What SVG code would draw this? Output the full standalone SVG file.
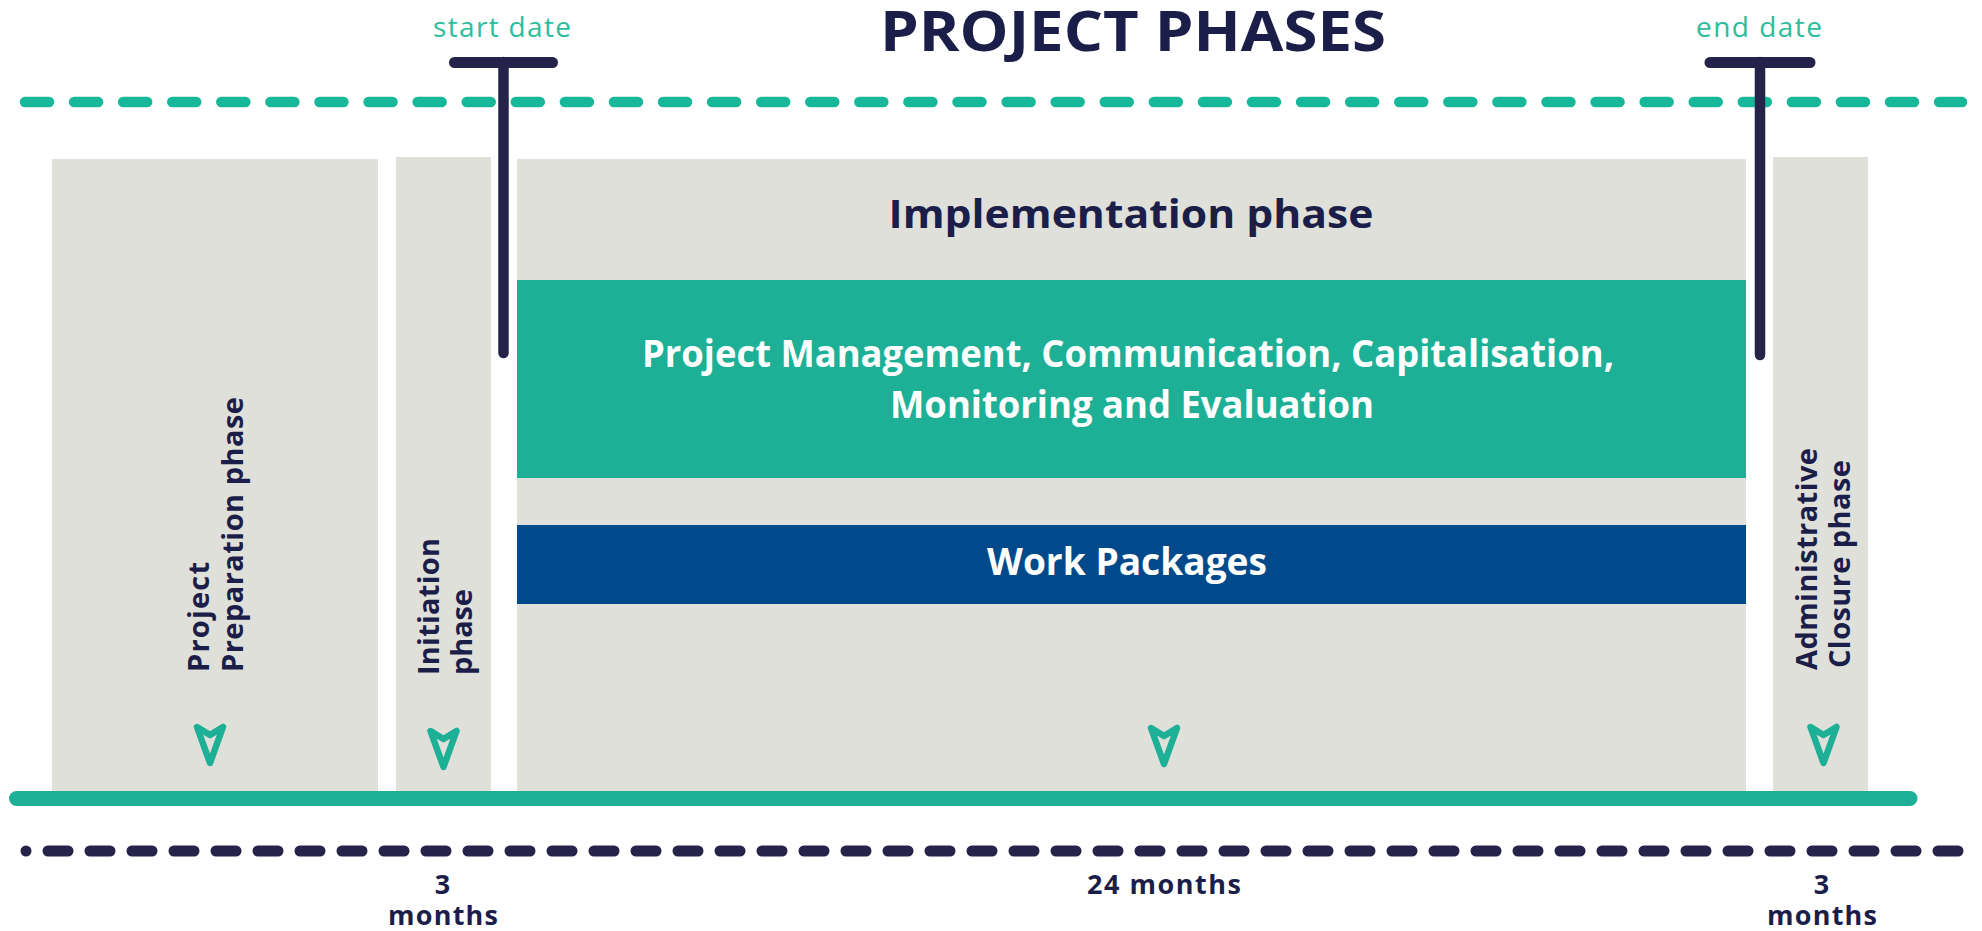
<svg xmlns="http://www.w3.org/2000/svg" width="1982" height="931" viewBox="0 0 1982 931">
<style>
.box{fill:#e0e0da}
.navy{fill:#1c1e4a;font-family:"Open Sans","Liberation Sans",sans-serif;font-weight:700}
.white{fill:#ffffff;font-family:"Open Sans","Liberation Sans",sans-serif;font-weight:700}
.date{fill:#2bbd9c;font-family:"Open Sans","Liberation Sans",sans-serif;font-weight:400;font-size:28px}
.vt{font-size:29px}
.dur{font-size:27px}
.arrow{fill:none;stroke:#1db096;stroke-width:6.5;stroke-linejoin:round}
</style>
<defs>
<path id="arr" d="M -13,0 L 0,8 L 13,0 L 0,36 Z" class="arrow"/>
</defs>
<rect width="1982" height="931" fill="#ffffff"/>

<g id="title">
<text class="navy" x="1133" y="51" font-size="56" text-anchor="middle" textLength="506" lengthAdjust="spacingAndGlyphs">PROJECT PHASES</text>
</g>

<g id="guides">
<line x1="25" y1="102" x2="1962" y2="102" stroke="#17b79a" stroke-width="10.5" stroke-linecap="round" stroke-dasharray="24 25.08"/>
<circle cx="26" cy="851" r="5.5" fill="#25234a"/>
<line x1="26" y1="851" x2="1961" y2="851" stroke="#25234a" stroke-width="11" stroke-linecap="round" stroke-dasharray="20 22" stroke-dashoffset="20"/>
</g>

<g id="prep">
<rect class="box" x="52" y="159" width="326" height="636"/>
<text class="navy vt" transform="translate(209,672) rotate(-90)" textLength="110">Project</text>
<text class="navy vt" transform="translate(243,672) rotate(-90)" textLength="275">Preparation phase</text>
<use href="#arr" x="210" y="727"/>
</g>

<g id="initiation">
<rect class="box" x="396" y="157" width="95" height="638"/>
<text class="navy vt" transform="translate(439,675) rotate(-90)" textLength="137">Initiation</text>
<text class="navy vt" transform="translate(472,675) rotate(-90)" textLength="86">phase</text>
<use href="#arr" x="443.5" y="731"/>
</g>

<g id="implementation">
<rect class="box" x="517" y="159" width="1229" height="636"/>
<text class="navy" x="1131" y="228" font-size="40" text-anchor="middle" textLength="485" lengthAdjust="spacingAndGlyphs">Implementation phase</text>
<use href="#arr" x="1164" y="728"/>
</g>

<g id="management">
<rect x="517" y="280" width="1229" height="198" fill="#1db096"/>
<text class="white" x="1128" y="367" font-size="38" text-anchor="middle" textLength="972" lengthAdjust="spacingAndGlyphs">Project Management, Communication, Capitalisation,</text>
<text class="white" x="1132" y="418" font-size="38" text-anchor="middle" textLength="484" lengthAdjust="spacingAndGlyphs">Monitoring and Evaluation</text>
</g>

<g id="workpackages">
<rect x="517" y="525" width="1229" height="79" fill="#004a8b"/>
<text class="white" x="1127" y="575" font-size="38" text-anchor="middle" textLength="280" lengthAdjust="spacingAndGlyphs">Work Packages</text>
</g>

<g id="closure">
<rect class="box" x="1773" y="157" width="95" height="638"/>
<text class="navy vt" transform="translate(1817,670) rotate(-90)" textLength="222">Administrative</text>
<text class="navy vt" transform="translate(1850,668) rotate(-90)" textLength="208">Closure phase</text>
<use href="#arr" x="1823.5" y="727"/>
</g>

<g id="timeline">
<line x1="16.5" y1="798.5" x2="1910" y2="798.5" stroke="#1db096" stroke-width="15" stroke-linecap="round"/>
</g>

<g id="start-date">
<text class="date" x="502" y="37" text-anchor="middle" textLength="138">start date</text>
<line x1="454.5" y1="62.5" x2="552.5" y2="62.5" stroke="#25234a" stroke-width="11" stroke-linecap="round"/>
<line x1="503.5" y1="62" x2="503.5" y2="353" stroke="#25234a" stroke-width="10.5" stroke-linecap="round"/>
</g>

<g id="end-date">
<text class="date" x="1759" y="37" text-anchor="middle" textLength="126">end date</text>
<line x1="1710" y1="62.5" x2="1810" y2="62.5" stroke="#25234a" stroke-width="11" stroke-linecap="round"/>
<line x1="1760" y1="62" x2="1760" y2="355" stroke="#25234a" stroke-width="10.5" stroke-linecap="round"/>
</g>

<g id="durations">
<text class="navy dur" x="442.5" y="894" text-anchor="middle">3</text>
<text class="navy dur" x="443" y="925" text-anchor="middle" textLength="110">months</text>
<text class="navy dur" x="1164" y="894" text-anchor="middle" textLength="154">24 months</text>
<text class="navy dur" x="1821.5" y="894" text-anchor="middle">3</text>
<text class="navy dur" x="1822" y="925" text-anchor="middle" textLength="110">months</text>
</g>
</svg>
